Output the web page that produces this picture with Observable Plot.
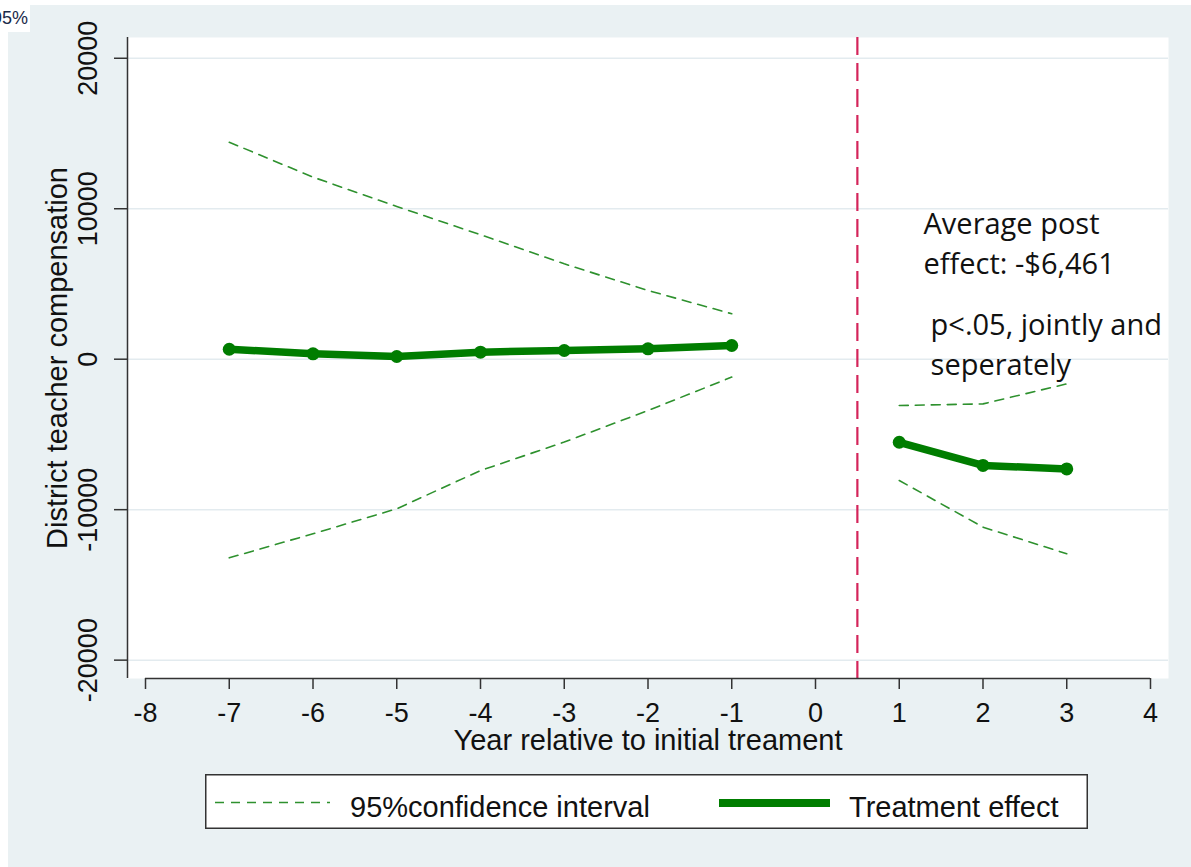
<!DOCTYPE html>
<html><head><meta charset="utf-8">
<script src="https://cdn.jsdelivr.net/npm/d3@7"></script>
<script src="https://cdn.jsdelivr.net/npm/@observablehq/plot@0.6"></script>
<style>
html,body{margin:0;padding:0;background:#fff;width:1191px;height:867px;overflow:hidden;}
#bg{position:absolute;left:8px;top:5px;width:1183px;height:862px;background:#eaf1f3;}
#chart{position:absolute;left:0;top:0;}
#legend{position:absolute;left:197px;top:769px;}
#corner{position:absolute;left:0;top:0;width:30px;height:32px;background:#fff;overflow:hidden;}
#corner span{position:absolute;left:-8px;top:8px;font:18px "Liberation Sans",Arial,sans-serif;color:#1a2a4a;white-space:nowrap;}
</style>
</head><body>
<div id="bg"><div id="chart"></div><div id="legend"></div></div>
<div id="corner"><span>95%</span></div>
<script>
// ---------- data ----------
const yearsPre = [-7, -6, -5, -4, -3, -2, -1];
const effectPre = [660, 360, 180, 470, 580, 690, 910];
const upperPre = [14420, 12100, 10150, 8270, 6340, 4570, 3020];
const lowerPre = [-13200, -11600, -9940, -7400, -5510, -3410, -1190];
const yearsPost = [1, 2, 3];
const effectPost = [-5520, -7060, -7290];
const upperPost = [-3080, -2970, -1640];
const lowerPost = [-8060, -11160, -12930];
const xTicks = [-8, -7, -6, -5, -4, -3, -2, -1, 0, 1, 2, 3, 4];
const yTicks = [-20000, -10000, 0, 10000, 20000];
const treatmentStart = 0.5;
const xTitle = "Year relative to initial treament";
const yTitle = "District teacher compensation";
const legendLabels = ["95%confidence interval", "Treatment effect"];
const noteLines = ["Average post", "effect: -$6,461", "p<.05, jointly and", "seperately"];

// ---------- tables ----------
const effectRows = [
  ...yearsPre.map((year, i) => ({year, value: effectPre[i], period: "pre"})),
  ...yearsPost.map((year, i) => ({year, value: effectPost[i], period: "post"}))
];
const ciRows = [
  ...yearsPre.map((year, i) => ({year, value: upperPre[i], seg: "upper-pre"})),
  ...yearsPre.map((year, i) => ({year, value: lowerPre[i], seg: "lower-pre"})),
  ...yearsPost.map((year, i) => ({year, value: upperPost[i], seg: "upper-post"})),
  ...yearsPost.map((year, i) => ({year, value: lowerPost[i], seg: "lower-post"}))
];

// ---------- fonts ----------
const AXF = '"Liberation Sans", Arial, sans-serif';
const tickFS = 27, titleFS = 29;
const NOTEF = '"Open Sans", "Noto Sans", sans-serif';

const xDomain = [-8.215, 4.215];
const yDomain = [-21220, 21380];
const green = "#007d00", ciGreen = "#2e912e", axisCol = "#333", textCol = "#111";

// note anchors (data coordinates)
const noteX = [1.29, 1.29, 1.374, 1.374];
const noteY = [8352, 5674, 1641, -1083];

const chart = Plot.plot({
  width: 1183, height: 765,
  marginLeft: 119, marginRight: 23, marginTop: 32, marginBottom: 92,
  x: {domain: xDomain},
  y: {domain: yDomain},
  style: {background: "transparent", fontFamily: AXF, color: textCol},
  marks: [
    Plot.frame({fill: "white", stroke: null}),
    Plot.gridY(yTicks, {stroke: "#e3ebef", strokeOpacity: 1, strokeWidth: 1.5}),
    Plot.ruleX([treatmentStart], {stroke: "#d4245a", strokeWidth: 2.2, strokeDasharray: "18,8"}),
    Plot.line(ciRows, {x: "year", y: "value", z: "seg", stroke: ciGreen, strokeWidth: 1.6, strokeDasharray: "9,7"}),
    Plot.line(effectRows, {x: "year", y: "value", z: "period", stroke: green, strokeWidth: 7.5}),
    Plot.dot(effectRows, {x: "year", y: "value", r: 6.5, fill: green}),
    Plot.ruleX([xDomain[0]], {stroke: axisCol, strokeWidth: 1.5}),
    Plot.axisY(yTicks, {tickSize: 13, tickFormat: () => "", stroke: axisCol, strokeWidth: 1.5, label: null}),
    Plot.text(yTicks, {x: xDomain[0], y: d => d, text: d => String(d), rotate: -90, dx: -39,
      fontSize: tickFS, textAnchor: "middle", lineAnchor: "middle", fill: textCol}),
    Plot.text([yTitle], {frameAnchor: "left", rotate: -90, dx: -70, fontSize: titleFS,
      textAnchor: "middle", lineAnchor: "middle", fill: textCol}),
    Plot.ruleY([yDomain[0]], {x1: xTicks[0], x2: xTicks[xTicks.length - 1], stroke: axisCol, strokeWidth: 1.5}),
    Plot.axisX(xTicks, {tickSize: 11, tickPadding: 13, fontSize: tickFS, tickFormat: d => String(d),
      stroke: axisCol, strokeWidth: 1.5, label: null, fill: textCol}),
    Plot.text([xTitle], {frameAnchor: "bottom", lineAnchor: "bottom", dy: 71, fontSize: titleFS, fill: textCol}),
    Plot.text(noteLines, {x: (d, i) => noteX[i], y: (d, i) => noteY[i], text: d => d,
      textAnchor: "start", lineAnchor: "bottom", fontFamily: NOTEF, fontSize: 29, fill: "#111"})
  ]
});
document.getElementById("chart").appendChild(chart);

// ---------- legend ----------
const lg = d3.select("#legend").append("svg").attr("width", 883).attr("height", 55)
  .style("font-family", AXF);
lg.append("rect").attr("x", 0.75).attr("y", 0.75).attr("width", 881.5).attr("height", 53.5)
  .attr("fill", "white").attr("stroke", axisCol).attr("stroke-width", 1.5);
lg.append("line").attr("x1", 10).attr("x2", 125).attr("y1", 28.5).attr("y2", 28.5)
  .attr("stroke", ciGreen).attr("stroke-width", 1.6).attr("stroke-dasharray", "9,7");
lg.append("text").attr("x", 145).attr("y", 42.5).attr("font-size", titleFS).attr("fill", textCol).text(legendLabels[0]);
lg.append("line").attr("x1", 514).attr("x2", 625).attr("y1", 29).attr("y2", 29)
  .attr("stroke", green).attr("stroke-width", 8);
lg.append("text").attr("x", 644).attr("y", 42.5).attr("font-size", titleFS).attr("fill", textCol).text(legendLabels[1]);
</script>
</body></html>
